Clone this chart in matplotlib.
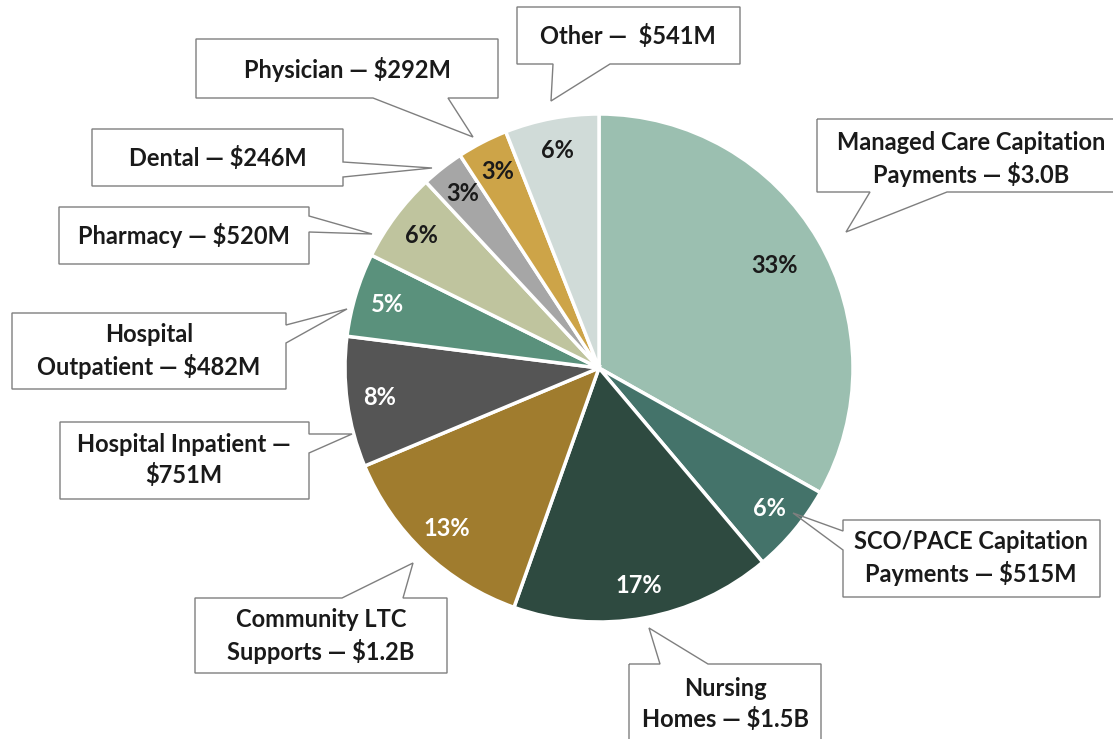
import matplotlib
matplotlib.use("Agg")
import numpy as np
import matplotlib.pyplot as plt
from matplotlib.patches import Polygon

W, H = 1113, 739

# spending by category, $ millions
categories = ["Managed Care Capitation Payments", "SCO/PACE Capitation Payments",
              "Nursing Homes", "Community LTC Supports", "Hospital Inpatient",
              "Hospital Outpatient", "Pharmacy", "Dental", "Physician", "Other"]
values = [3000, 515, 1500, 1200, 751, 482, 520, 246, 292, 541]
labels = ["Managed Care Capitation\nPayments — $3.0B",
          "SCO/PACE Capitation\nPayments — $515M",
          "Nursing\nHomes — $1.5B",
          "Community LTC\nSupports — $1.2B",
          "Hospital Inpatient —\n$751M",
          "Hospital\nOutpatient — $482M",
          "Pharmacy — $520M",
          "Dental — $246M",
          "Physician — $292M",
          "Other —  $541M"]

colors = ["#9bbfb0", "#44736a", "#2e4a40", "#a07c2e", "#555555",
          "#5a917c", "#bfc49e", "#a6a6a6", "#cda448", "#d0dbd8"]
pct_colors = ["#1a1a1a", "white", "white", "white", "white",
              "white", "#1a1a1a", "#1a1a1a", "#1a1a1a", "#1a1a1a"]

# callout layout in pixel coords (y down): box, pointer side, pointer base, tip, text centre
callouts = [
    ((817, 119, 1125, 192), "bottom", (870, 947), (846, 232), (971, 159)),
    ((843, 520, 1100, 597), "left", (531, 550), (793, 513), (971, 558)),
    ((629, 664, 821, 760), "top", (660, 708), (649, 628), (725, 704)),
    ((195, 598, 447, 673), "top", (342, 403), (413, 563), (321, 636)),
    ((60, 422, 309, 499), "right", (434, 453), (352, 434), (184, 460)),
    ((12, 313, 286, 389), "right", (325, 343), (347, 309), (149, 351)),
    ((59, 207, 309, 264), "right", (216, 232), (372, 234), (184, 236)),
    ((92, 129, 343, 186), "right", (162, 177), (432, 168), (218, 158)),
    ((196, 39, 498, 98), "bottom", (373, 448), (473, 137), (347, 69)),
    ((517, 7, 740, 64), "bottom", (553, 610), (551, 101), (628, 36)),
]

plt.rcParams["font.family"] = ["Lato", "DejaVu Sans"]

fig = plt.figure(figsize=(W / 100, H / 100), dpi=100)
ax = fig.add_axes([0, 0, 1, 1])

R = 254
cx, cy = 599, H - 368
wedges, _ = ax.pie(values, colors=colors, startangle=90, counterclock=False,
                   radius=R, center=(cx, cy),
                   wedgeprops=dict(edgecolor="white", linewidth=2.5))
for w in wedges:
    w.set_zorder(2)

total = sum(values)
for i, w in enumerate(wedges):
    mid = np.deg2rad((w.theta1 + w.theta2) / 2)
    r = R * (0.80 if i == 0 else 0.87)
    ax.text(cx + r * np.cos(mid), cy + r * np.sin(mid),
            f"{values[i] / total * 100:.0f}%", ha="center", va="center",
            fontsize=17, fontweight="bold", color=pct_colors[i], zorder=5)


def outline(box, side, base, tip):
    x0, y0, x1, y1 = box
    a, b = base
    if side == "bottom":
        pts = [(x0, y0), (x1, y0), (x1, y1), (b, y1), tip, (a, y1), (x0, y1)]
    elif side == "top":
        pts = [(x0, y0), (a, y0), tip, (b, y0), (x1, y0), (x1, y1), (x0, y1)]
    elif side == "right":
        pts = [(x0, y0), (x1, y0), (x1, a), tip, (x1, b), (x1, y1), (x0, y1)]
    else:
        pts = [(x0, y0), (x1, y0), (x1, y1), (x0, y1), (x0, b), tip, (x0, a)]
    return [(x, H - y) for x, y in pts]


for lab, (box, side, base, tip, tc) in zip(labels, callouts):
    pts = outline(box, side, base, tip)
    ax.add_patch(Polygon(pts, closed=True, facecolor="white", edgecolor="none", zorder=1))
    ax.add_patch(Polygon(pts, closed=True, facecolor="none", edgecolor="#7f7f7f",
                         linewidth=1.0, zorder=4))
    ax.text(tc[0], H - tc[1], lab, ha="center", va="center", fontsize=17,
            fontweight="bold", color="#1a1a1a", linespacing=1.35, zorder=5)

ax.set_xlim(0, W)
ax.set_ylim(0, H)
ax.set_aspect("equal")
ax.axis("off")

fig.savefig("out.png", dpi=100)
